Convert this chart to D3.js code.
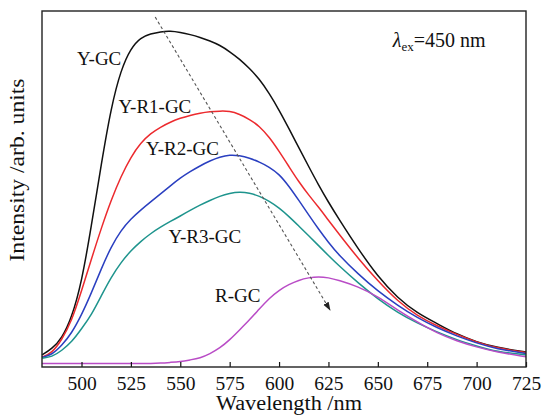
<!DOCTYPE html>
<html>
<head>
<meta charset="utf-8">
<script src="https://cdn.jsdelivr.net/npm/d3@7"></script>
<style>
  html, body { margin: 0; padding: 0; background: #fff; }
  svg { display: block; }
  text { font-family: "Liberation Serif", "Times New Roman", serif; fill: #111; }
</style>
</head>
<body>
<div id="chart"></div>
<script>
(function () {
'use strict';
// Emission spectra of the glass ceramics, excitation at 450 nm

// wavelength grid (nm), shared by all curves
const wavelength = [480, 485, 490, 495, 500, 505, 510, 515, 520, 525, 530, 535, 540, 545, 550, 555, 560, 565, 570, 575,
                    580, 585, 590, 595, 600, 605, 610, 615, 620, 625, 630, 640, 650, 660, 670, 680, 690, 700, 710, 725];

// intensity (arb. units)
const yGC   = [3.4, 5.1, 8.0, 13.8, 23.6, 39.6, 57.0, 73.0, 83.6, 89.6, 92.6, 93.6, 94.2, 94.4, 94.0, 93.4, 92.6, 91.6, 90.4, 88.6,
               86.5, 83.9, 80.9, 76.9, 72.2, 67.0, 61.6, 56.3, 51.1, 46.3, 41.8, 33.2, 25.4, 19.4, 15.1, 12.2, 9.2, 7.0, 5.5, 4.2];
const yR1GC = [2.8, 3.9, 7.6, 12.9, 21.3, 30.3, 39.0, 46.9, 53.6, 59.0, 63.0, 65.6, 67.4, 68.8, 69.9, 70.7, 71.3, 71.7, 71.9, 71.9,
               71.0, 69.6, 67.7, 64.6, 60.6, 56.3, 52.0, 48.3, 44.9, 41.2, 37.6, 30.5, 24.2, 18.5, 14.4, 11.5, 9.1, 7.0, 5.3, 4.1];
const yR2GC = [2.7, 3.4, 6.0, 9.5, 14.6, 20.8, 27.6, 33.8, 38.4, 41.6, 44.1, 46.4, 48.6, 50.9, 53.1, 54.9, 56.5, 57.9, 59.0, 59.6,
               59.4, 58.7, 57.6, 56.2, 54.2, 50.8, 46.8, 42.7, 38.7, 35.0, 31.6, 26.1, 21.3, 17.3, 13.8, 11.0, 8.7, 6.7, 5.1, 3.8];
const yR3GC = [2.5, 2.8, 4.6, 7.0, 10.7, 14.6, 20.0, 25.2, 29.4, 32.7, 35.3, 37.5, 39.3, 40.9, 42.4, 44.0, 45.5, 46.8, 48.0, 48.8,
               49.2, 48.9, 48.0, 46.6, 44.7, 42.3, 39.6, 36.9, 34.1, 31.3, 28.6, 23.6, 19.1, 15.3, 12.3, 9.8, 7.6, 5.9, 4.3, 3.4];
const rGC   = [1.0, 1.0, 1.0, 1.0, 1.0, 1.0, 1.0, 1.0, 1.0, 1.0, 1.0, 1.0, 1.1, 1.3, 1.5, 2.0, 2.5, 3.7, 5.3, 7.6,
               10.4, 13.2, 16.3, 19.3, 21.6, 23.2, 24.4, 25.1, 25.4, 25.1, 24.4, 22.6, 19.8, 16.0, 12.6, 9.5, 7.3, 5.6, 4.2, 2.9];

const seriesNames = ["Y-GC", "Y-R1-GC", "Y-R2-GC", "Y-R3-GC", "R-GC"];
const seriesValues = [yGC, yR1GC, yR2GC, yR3GC, rGC];
const seriesColors = ["#111111", "#ec2a2e", "#2a3fc0", "#1e948d", "#b94cc6"];

// curve labels: [wavelength, intensity] of the text start
const labelAt = [[497.7, 84.8], [518.7, 71.3], [532.7, 59.6], [544.0, 34.7], [567.6, 18.3]];

const xTicks = [500, 525, 550, 575, 600, 625, 650, 675, 700, 725];

// dashed trend arrow, [wavelength, intensity]
const arrowFrom = [537.3, 98.3];
const arrowTo   = [625.8, 16.0];

const width = 544, height = 415;
const margin = {top: 11, right: 18, bottom: 48, left: 42};
const innerW = width - margin.left - margin.right;
const innerH = height - margin.top - margin.bottom;

const svg = d3.select("#chart").append("svg")
  .attr("width", width).attr("height", height)
  .attr("viewBox", `0 0 ${width} ${height}`);

const x = d3.scaleLinear().domain([480, 725]).range([margin.left, margin.left + innerW]);
const y = d3.scaleLinear().domain([0, 100]).range([margin.top + innerH, margin.top]);

// curves
const line = d3.line()
  .x((d, i) => x(wavelength[i]))
  .y(d => y(d))
  .curve(d3.curveBasis);

svg.append("g").selectAll("path")
  .data(seriesValues)
  .join("path")
  .attr("d", d => line(d))
  .attr("fill", "none")
  .attr("stroke", (d, i) => seriesColors[i])
  .attr("stroke-width", 1.5)
  .attr("stroke-linejoin", "round");

// x axis, ticks pointing into the plot
const xAxisG = svg.append("g")
  .attr("transform", `translate(0,${margin.top + innerH})`)
  .call(d3.axisBottom(x).tickValues(xTicks).tickSizeInner(-5).tickSizeOuter(0).tickPadding(9));
xAxisG.select(".domain").remove();
xAxisG.selectAll("line").attr("stroke", "#111").attr("stroke-width", 1.2);
xAxisG.selectAll("text")
  .attr("font-family", "Liberation Serif, serif")
  .attr("font-size", 19.5)
  .attr("fill", "#111");

// frame
svg.append("rect")
  .attr("x", margin.left).attr("y", margin.top)
  .attr("width", innerW).attr("height", innerH)
  .attr("fill", "none").attr("stroke", "#222").attr("stroke-width", 1.4);

// arrow
const defs = svg.append("defs");
defs.append("marker")
  .attr("id", "arrowhead")
  .attr("viewBox", "0 0 10 10")
  .attr("refX", 9).attr("refY", 5)
  .attr("markerWidth", 8).attr("markerHeight", 8)
  .attr("orient", "auto")
  .append("path").attr("d", "M0,1.5 L10,5 L0,8.5 Z").attr("fill", "#222");

svg.append("line")
  .attr("x1", x(arrowFrom[0])).attr("y1", y(arrowFrom[1]))
  .attr("x2", x(arrowTo[0])).attr("y2", y(arrowTo[1]))
  .attr("stroke", "#555").attr("stroke-width", 1.1)
  .attr("stroke-dasharray", "3 2.5")
  .attr("marker-end", "url(#arrowhead)");

// curve labels
svg.append("g").selectAll("text")
  .data(seriesNames)
  .join("text")
  .attr("x", (d, i) => x(labelAt[i][0]))
  .attr("y", (d, i) => y(labelAt[i][1]))
  .attr("font-size", 19)
  .text(d => d);

// excitation note
const note = svg.append("text")
  .attr("x", x(657.6)).attr("y", y(90.0))
  .attr("font-size", 20);
note.append("tspan").attr("font-style", "italic").text("λ");
note.append("tspan").attr("font-size", 13).attr("dy", 4).text("ex");
note.append("tspan").attr("dy", -4).text("=450 nm");

// axis titles
svg.append("text")
  .attr("x", 289).attr("y", 410)
  .attr("text-anchor", "middle")
  .attr("font-size", 20)
  .attr("textLength", 146).attr("lengthAdjust", "spacingAndGlyphs")
  .text("Wavelength /nm");

svg.append("text")
  .attr("transform", "translate(24,170) rotate(-90)")
  .attr("text-anchor", "middle")
  .attr("font-size", 20)
  .attr("textLength", 183).attr("lengthAdjust", "spacingAndGlyphs")
  .text("Intensity /arb. units");
})();
</script>
</body>
</html>
